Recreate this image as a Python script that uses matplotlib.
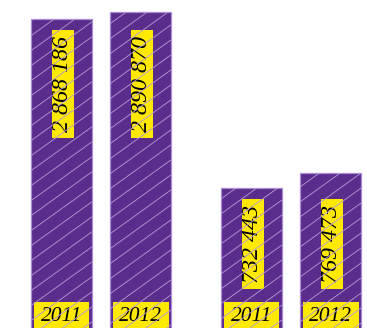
import matplotlib
matplotlib.use("Agg")
import matplotlib.pyplot as plt
import numpy as np
from matplotlib.path import Path
from matplotlib.collections import LineCollection
from matplotlib.transforms import blended_transform_factory, IdentityTransform

# ---- data ----
years = ["2011", "2012"]
group_a_values = [2868186, 2890870]
group_b_values = [732443, 769473]
value_labels_a = ["2 868 186", "2 890 870"]
value_labels_b = ["732 443", "769 473"]

FILL = "#5a2c8b"
EDGE = "#a98ad6"
HATCH = "#b49ad8"
YELLOW = "#ffe900"
FONT = "Liberation Serif"

W, H, DPI = 367, 328, 100
fig = plt.figure(figsize=(W / DPI, H / DPI), dpi=DPI)

def px_axes(left_px, right_px, top_px, bottom_px):
    return fig.add_axes([left_px / W, (H - bottom_px) / H,
                         (right_px - left_px) / W, (bottom_px - top_px) / H])

ax1 = px_axes(22, 180, 0, 980)
ax2 = px_axes(212, 370, 0, 497)
ax1.set_ylim(0, 2925790)
ax2.set_ylim(0, 1179200)

def box_style(padx, thick):
    def f(x0, y0, width, height, mutation_size):
        cy = y0 + height / 2
        x0p, x1p = x0 - padx, x0 + width + padx
        y0p, y1p = cy - thick / 2, cy + thick / 2
        return Path([(x0p, y0p), (x1p, y0p), (x1p, y1p), (x0p, y1p), (x0p, y0p)], closed=True)
    return f

def bottom_style(padx, padtop):
    def f(x0, y0, width, height, mutation_size):
        x0p, x1p = x0 - padx, x0 + width + padx
        y0p, y1p = y0 - 20, y0 + height + padtop
        return Path([(x0p, y0p), (x1p, y0p), (x1p, y1p), (x0p, y1p), (x0p, y0p)], closed=True)
    return f

groups = [(ax1, group_a_values, value_labels_a), (ax2, group_b_values, value_labels_b)]
x = np.arange(len(years))
bar_sets = []
for ax, vals, labs in groups:
    ax.set_xlim(-0.5, 1.5)
    bars = ax.bar(x, vals, width=0.772, color=FILL, edgecolor=EDGE, linewidth=0.9, zorder=1)
    bar_sets.append((ax, bars))
    ax.axis("off")
    tr = blended_transform_factory(ax.transData, fig.transFigure)
    for xi, yr in zip(x, years):
        ax.text(xi, 7.3 / H, yr, transform=tr, ha="center", va="baseline",
                fontsize=15.5, fontstyle="italic", family=FONT, color="black",
                bbox=dict(boxstyle=bottom_style(6.5, 4.5), facecolor=YELLOW, edgecolor="none"),
                zorder=5, clip_on=False)
    anchor = min(vals)
    for xi, lab in zip(x, labs):
        ax.annotate(lab, xy=(xi, anchor), xycoords="data", xytext=(0.8, -12),
                    textcoords="offset points", rotation=90, ha="center", va="top",
                    fontsize=17.3, fontstyle="italic", family=FONT, color="black",
                    bbox=dict(boxstyle=box_style(6, 22), facecolor=YELLOW, edgecolor="none"),
                    zorder=5, annotation_clip=False)

# custom slanted hatch clipped to each bar
fig.canvas.draw()
slope = 0.72
step = 15.0
for ax, bars in bar_sets:
    for b in bars:
        bb = b.get_window_extent()
        x0, x1, y0, y1 = bb.x0, bb.x1, bb.y0, bb.y1
        cmin = y0 - slope * x1
        cmax = y1 - slope * x0
        cs = np.arange(np.floor(cmin / step) * step, cmax + step, step)
        segs = [[(x0, slope * x0 + c), (x1, slope * x1 + c)] for c in cs]
        lc = LineCollection(segs, colors=HATCH, linewidths=0.7, transform=IdentityTransform(),
                            zorder=2, alpha=0.9)
        fig.add_artist(lc)
        lc.set_clip_path(b)

fig.savefig("out.png", dpi=DPI)
